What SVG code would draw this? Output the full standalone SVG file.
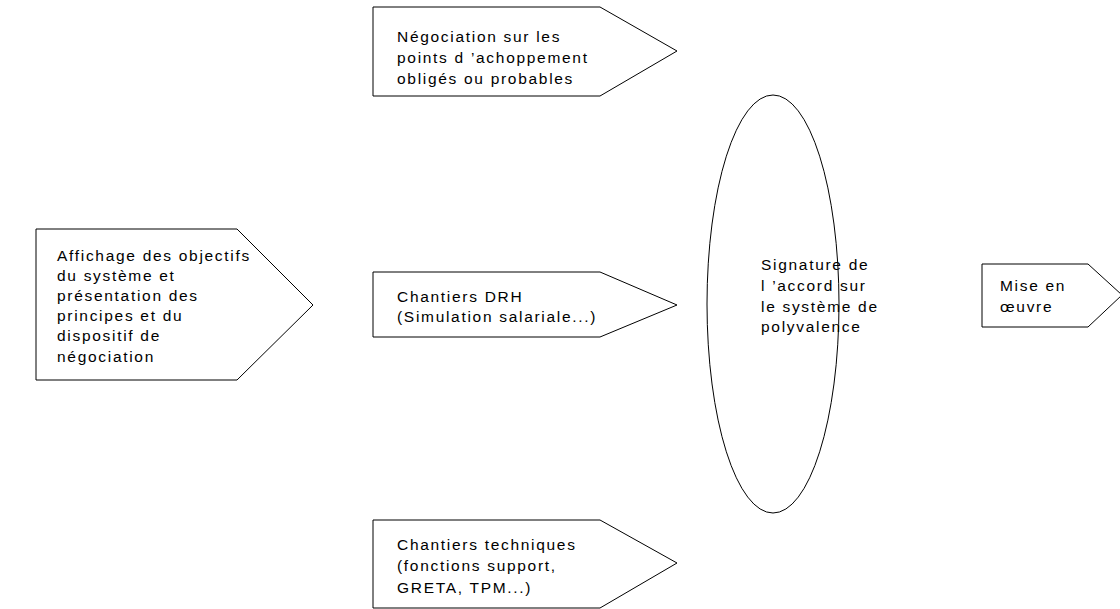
<svg xmlns="http://www.w3.org/2000/svg" width="1120" height="609" viewBox="0 0 1120 609">
<style>
.s{fill:#fff;stroke:#000;stroke-width:1}
.t{font-family:"Liberation Sans",Arial,sans-serif;font-size:15.5px;fill:#000;letter-spacing:1.7px}
</style>
<rect width="1120" height="609" fill="#fff"/>
<g id="n-affichage">
<polygon class="s" points="36,229 237,229 313,305 237,380 36,380"/>
<text class="t" x="57" y="261">Affichage des objectifs</text>
<text class="t" x="57" y="281">du système et</text>
<text class="t" x="57" y="301">présentation des</text>
<text class="t" x="57" y="321">principes et du</text>
<text class="t" x="57" y="341">dispositif de</text>
<text class="t" x="57" y="362">négociation</text>
</g>
<g id="n-negociation">
<polygon class="s" points="373,7 600,7 677,51 600,96 373,96"/>
<text class="t" x="397" y="42">Négociation sur les</text>
<text class="t" x="397" y="63">points d ’achoppement</text>
<text class="t" x="397" y="84">obligés ou probables</text>
</g>
<g id="n-drh">
<polygon class="s" points="373,272 600,272 677,305 600,337 373,337"/>
<text class="t" x="397" y="302">Chantiers DRH</text>
<text class="t" x="397" y="322">(Simulation salariale...)</text>
</g>
<g id="n-techniques">
<polygon class="s" points="373,520 600,520 677,563 600,608 373,608"/>
<text class="t" x="397" y="550">Chantiers techniques</text>
<text class="t" x="397" y="571">(fonctions support,</text>
<text class="t" x="397" y="593">GRETA, TPM...)</text>
</g>
<g id="n-signature">
<ellipse class="s" cx="773" cy="304" rx="66" ry="209"/>
<text class="t" x="761" y="270">Signature de</text>
<text class="t" x="761" y="291">l ’accord sur</text>
<text class="t" x="761" y="312">le système de</text>
<text class="t" x="761" y="332">polyvalence</text>
</g>
<g id="n-mise">
<polygon class="s" points="982,264 1088,264 1122,295 1088,327 982,327"/>
<text class="t" x="1000" y="291">Mise en</text>
<text class="t" x="1000" y="312">œuvre</text>
</g>
<g id="connectors"></g>
</svg>
